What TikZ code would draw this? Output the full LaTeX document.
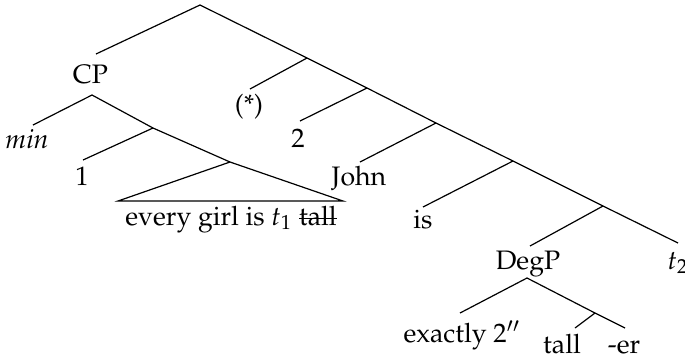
\documentclass[tikz,border=0pt]{standalone}
\usepackage[T1]{fontenc}
\usepackage{mathpazo}
\newcommand{\mystrike}[1]{\setbox0=\hbox{#1}\rlap{\rule[0.5ex]{\wd0}{0.45pt}}\box0}
\tikzset{
  lbl/.style={inner sep=0pt, anchor=base, font=\normalsize},
  edge/.style={line width=0.45pt, black},
}
\begin{document}
\begin{tikzpicture}[x=0.3745pt, y=-0.3745pt]
\useasboundingbox (0,0) rectangle (685,357);
% junction points
\coordinate (T) at (200,5);
\coordinate (S1) at (307,58);
\coordinate (S2) at (367,88);
\coordinate (S3) at (436,123);
\coordinate (S4) at (513,161);
\coordinate (S5) at (603,206);
\coordinate (CPt) at (96,54);
\coordinate (CPb) at (92,95);
\coordinate (C1) at (153,128);
\coordinate (Tri) at (230,162);
\coordinate (TriL) at (118,201);
\coordinate (TriR) at (343,201);
\coordinate (minT) at (33,125);
\coordinate (oneT) at (83,160);
\coordinate (starT) at (250,89);
\coordinate (twoT) at (300,121);
\coordinate (johnT) at (360,162);
\coordinate (isT) at (423,207);
\coordinate (degT) at (530,246);
\coordinate (t2T) at (678,243);
\coordinate (Db) at (527,278);
\coordinate (D1) at (595,313);
\coordinate (exT) at (460,313);
\coordinate (tallT) at (575,328);
\coordinate (erT) at (625,328);
% labels
\node[lbl] (cp) at (90.5,83) {CP};
\node[lbl] (star) at (249,113) {(*)};
\node[lbl] (min) at (27,148) {\textit{min}};
\node[lbl] (two) at (298,147) {2};
\node[lbl] (one) at (82,185) {1};
\node[lbl] (john) at (359,185) {John};
\node[lbl] (every) at (231,225) {every girl is $t_1$ \mystrike{tall}};
\node[lbl] (is) at (423,228) {is};
\node[lbl] (degp) at (528,269) {DegP};
\node[lbl, anchor=base west] (t2) at (667,269) {$t_2$};
\node[lbl, anchor=base west] (exactly) at (403,342) {exactly 2$''$};
\node[lbl] (tall) at (562,353) {tall};
\node[lbl] (er) at (624,353) {-er};
% edges
\draw[edge] (CPt) -- (T) -- (S1) -- (S2) -- (S3) -- (S4) -- (S5) -- (t2T);
\draw[edge] (S1) -- (starT);
\draw[edge] (S2) -- (twoT);
\draw[edge] (S3) -- (johnT);
\draw[edge] (S4) -- (isT);
\draw[edge] (S5) -- (degT);
\draw[edge] (minT) -- (CPb) -- (C1) -- (Tri);
\draw[edge] (C1) -- (oneT);
\draw[edge] (Tri) -- (TriL) -- (TriR) -- cycle;
\draw[edge] (exT) -- (Db) -- (D1) -- (erT);
\draw[edge] (D1) -- (tallT);
\end{tikzpicture}
\end{document}
